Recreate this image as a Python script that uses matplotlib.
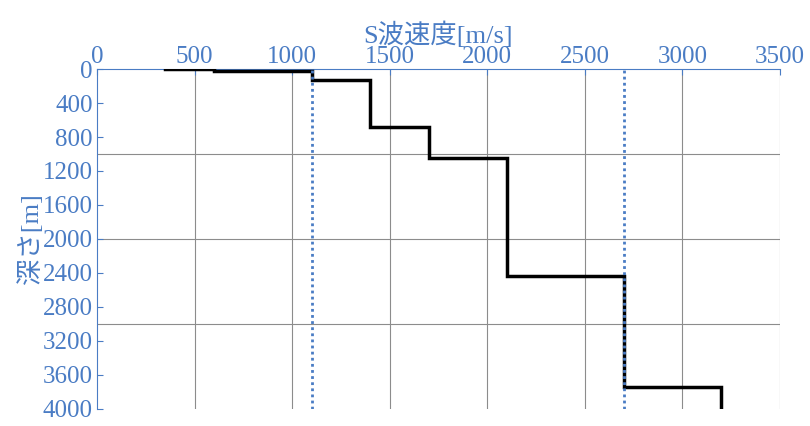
import matplotlib
matplotlib.use("Agg")
import matplotlib.pyplot as plt
import numpy as np

# layer velocity, top depth and bottom depth
velocity = [350, 600, 1100, 1400, 1700, 2100, 2700, 3200]
top_depth = [0, 0, 25, 130, 680, 1050, 2435, 3740]
bottom_depth = [0, 25, 130, 680, 1050, 2435, 3740, 4000]
ref_lines = [1100, 2700]

blue = "#4a7cc4"
plt.rcParams["font.family"] = ["Liberation Serif", "Noto Sans CJK JP"]

fig = plt.figure(figsize=(8.1, 4.26), dpi=100)
ax = fig.add_axes([0.1198, 0.04, 0.843, 0.798])

xs, ys = [], []
for v, t, b in zip(velocity, top_depth, bottom_depth):
    xs += [v, v]
    ys += [t, b]
ax.plot(xs, ys, color="black", lw=2.5, solid_joinstyle="miter", zorder=3)
for r in ref_lines:
    ax.axvline(r, color=blue, lw=2, ls=(0, (1, 1.2)), zorder=4)

ax.set_xlim(0, 3500)
ax.set_ylim(4000, 0)
ax.xaxis.tick_top()
ax.xaxis.set_label_position("top")
ax.set_xticks(np.arange(0, 3501, 500))
ax.set_yticks(np.arange(0, 4001, 400))
for g in [500, 1000, 1500, 2000, 2500, 3000, 3500]:
    ax.axvline(g, color="#8c8c8c", lw=0.8, zorder=0)
for g in [1000, 2000, 3000]:
    ax.axhline(g, color="#8c8c8c", lw=0.8, zorder=0)
ax.tick_params(axis="both", which="major", colors=blue, labelsize=18, length=4, direction="in")
ax.tick_params(axis="x", pad=1)
ax.tick_params(axis="y", pad=3)
ax.set_xlabel("S波速度[m/s]", color=blue, fontsize=19, labelpad=2)
ax.set_ylabel("深さ[m]", color=blue, fontsize=19, labelpad=0)
for s in ["right", "bottom"]:
    ax.spines[s].set_visible(False)
for s in ["top", "left"]:
    ax.spines[s].set_color(blue)

fig.savefig("out.png", dpi=100)
